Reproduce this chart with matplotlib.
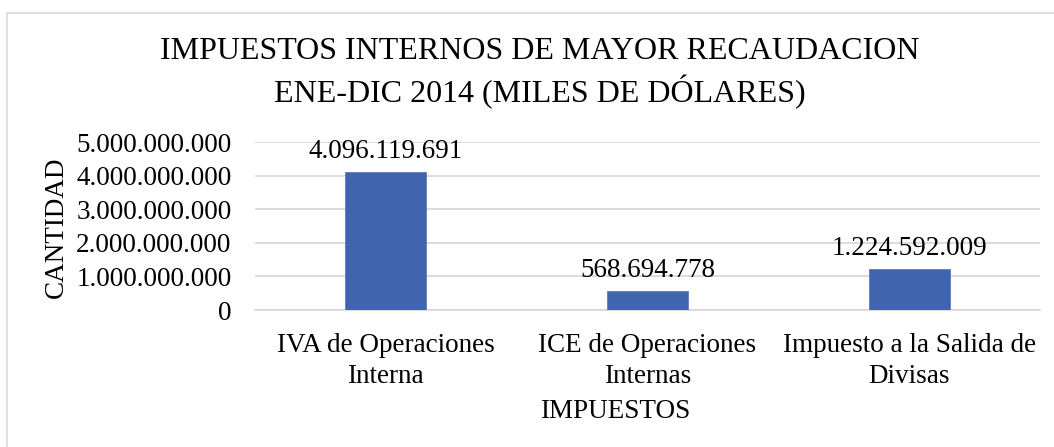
import matplotlib
matplotlib.use("Agg")
import matplotlib.pyplot as plt
from matplotlib.ticker import FuncFormatter
from matplotlib.patches import Rectangle

categories = ["IVA de Operaciones\nInterna", "ICE de Operaciones\nInternas", "Impuesto a la Salida de\nDivisas"]
values = [4096119691, 568694778, 1224592009]
yticks = [0, 1000000000, 2000000000, 3000000000, 4000000000, 5000000000]

plt.rcParams['font.family'] = ['Liberation Serif', 'DejaVu Serif']

def fmt(v):
    return f"{int(round(v)):,}".replace(",", ".")

FS = 19.5
fig = plt.figure(figsize=(10.54, 4.47), dpi=100)
fig.patches.append(Rectangle((7/1054, -0.1), 1.2, 1 - 13/447 + 0.1, transform=fig.transFigure,
                             fill=False, edgecolor='#D9D9D9', linewidth=1.2))
ax = fig.add_axes([255/1054, 1 - 310/447, (1040 - 255)/1054, (310 - 142)/447])
x = list(range(len(categories)))
bars = ax.bar(x, values, width=0.31, color='#4064AD', edgecolor='#5B7DC0', linewidth=0.6, zorder=3)
ax.set_xlim(-0.5, 2.5)
ax.set_ylim(0, 5000000000)
ax.set_yticks(yticks)
ax.yaxis.set_major_formatter(FuncFormatter(lambda v, p: fmt(v)))
ax.set_xticks(x)
ax.set_xticklabels(categories, fontsize=FS, linespacing=1.32)
ax.tick_params(axis='y', labelsize=FS, length=0, pad=17)
ax.tick_params(axis='x', length=0, pad=16.5)
ax.grid(axis='y', color='#D9D9D9', linewidth=1.3, zorder=0)
for s in ['top', 'right', 'left']:
    ax.spines[s].set_visible(False)
ax.spines['bottom'].set_color('#D9D9D9')
ax.spines['bottom'].set_linewidth(1.3)
for b, v in zip(bars, values):
    ax.annotate(fmt(v), (b.get_x() + b.get_width()/2, v), xytext=(0, 6), textcoords='offset points',
                ha='center', va='bottom', fontsize=FS)
fig.text(56/1054, 1 - 227/447, 'CANTIDAD', rotation=90, ha='center', va='center', fontsize=FS)
fig.text(615/1054, 1 - 411/447, 'IMPUESTOS', ha='center', va='center', fontsize=FS)
fig.text(540/1054, 1 - 73/447, 'IMPUESTOS INTERNOS DE MAYOR RECAUDACION\nENE-DIC 2014 (MILES DE DÓLARES)',
         ha='center', va='center', fontsize=23, linespacing=1.3)
fig.savefig('out.png', dpi=100)
